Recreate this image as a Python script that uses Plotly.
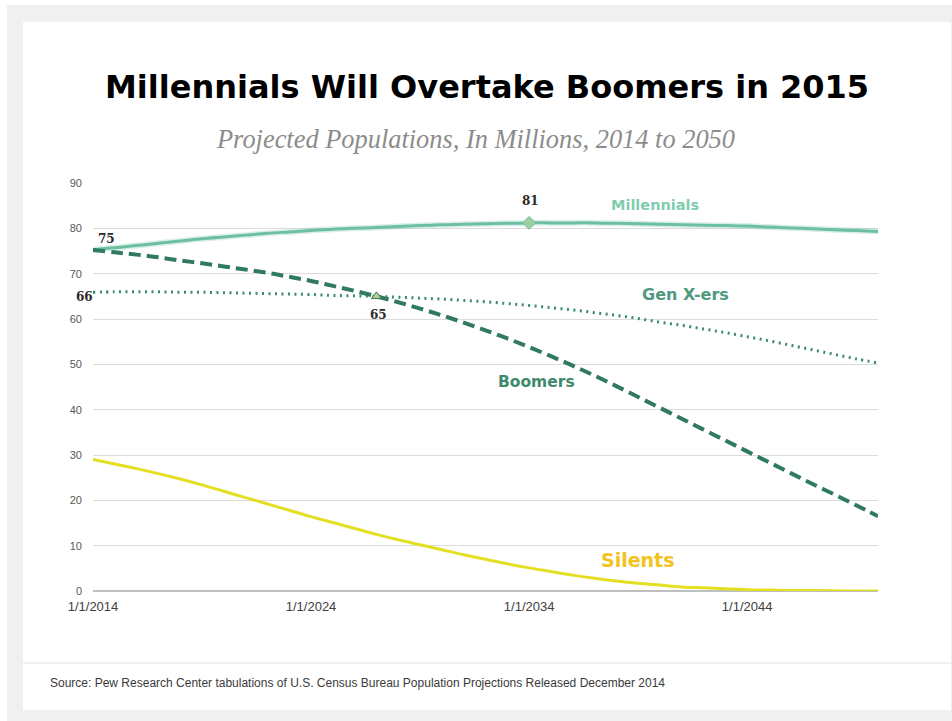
import plotly.graph_objects as go

# ---- data (millions of people, projected) ----
years = list(range(2014, 2051))

millennials = [75.3, 75.7, 76.2, 76.7, 77.2, 77.7, 78.1, 78.5, 78.9, 79.2,
               79.5, 79.8, 80.0, 80.2, 80.4, 80.6, 80.8, 80.9, 81.0, 81.1,
               81.2, 81.2, 81.2, 81.2, 81.1, 81.0, 80.9, 80.8, 80.7, 80.6,
               80.5, 80.3, 80.1, 79.9, 79.7, 79.5, 79.3]

gen_x = [65.9, 66.0, 66.0, 66.0, 65.9, 65.9, 65.8, 65.7, 65.6, 65.5,
         65.4, 65.2, 65.1, 65.0, 64.8, 64.6, 64.4, 64.1, 63.8, 63.4,
         63.0, 62.5, 62.0, 61.4, 60.8, 60.1, 59.3, 58.6, 57.8, 57.0,
         56.1, 55.2, 54.2, 53.2, 52.2, 51.2, 50.3]

boomers = [75.2, 74.7, 74.2, 73.6, 72.9, 72.3, 71.6, 70.9, 70.2, 69.3,
           68.4, 67.3, 66.2, 65.0, 63.7, 62.3, 60.8, 59.2, 57.5, 55.7,
           53.8, 51.8, 49.7, 47.5, 45.2, 42.8, 40.4, 38.0, 35.6, 33.2,
           30.8, 28.4, 26.0, 23.6, 21.3, 18.9, 16.5]

silents = [29.0, 28.0, 27.0, 25.9, 24.7, 23.4, 22.0, 20.6, 19.2, 17.8,
           16.4, 15.1, 13.8, 12.5, 11.3, 10.2, 9.1, 8.0, 7.0, 6.0,
           5.1, 4.3, 3.5, 2.8, 2.2, 1.7, 1.3, 0.9, 0.7, 0.5,
           0.3, 0.2, 0.1, 0.1, 0.05, 0.0, 0.0]

tick_years = [2014, 2024, 2034, 2044]
tick_labels = ["1/1/2014", "1/1/2024", "1/1/2034", "1/1/2044"]

peak_year = 2034          # Millennials peak
cross_year = 2027         # Gen X passes Boomers

dates = [f"{y}-01-01" for y in years]


def val(series, yr):
    return series[years.index(yr)]


# ---- canvas geometry (pixels) ----
W, H = 952, 721
PL, PR, PT, PB = 93, 878, 183, 591   # plot area edges


def px(x):
    return (x - PL) / (PR - PL)


def py(y):
    return (PB - y) / (PB - PT)


MILL_C = "#6dbfa3"
BOOM_C = "#2f7a60"
GENX_C = "#3b8a6d"
SIL_C = "#e4df22"

fig = go.Figure()

# soft halo under the Millennials line
fig.add_trace(go.Scatter(x=dates, y=millennials, mode="lines",
                         line=dict(color="rgba(109,191,163,0.25)", width=6, shape="spline"),
                         hoverinfo="skip", showlegend=False, cliponaxis=False))
fig.add_trace(go.Scatter(x=dates, y=millennials, mode="lines", name="Millennials",
                         line=dict(color=MILL_C, width=3, shape="spline"),
                         showlegend=False, cliponaxis=False))
fig.add_trace(go.Scatter(x=dates, y=gen_x, mode="lines", name="Gen X-ers",
                         line=dict(color=GENX_C, width=3, dash="2px,4.5px", shape="spline"),
                         showlegend=False, cliponaxis=False))
fig.add_trace(go.Scatter(x=dates, y=boomers, mode="lines", name="Boomers",
                         line=dict(color=BOOM_C, width=4, dash="12px,6px", shape="spline"),
                         showlegend=False, cliponaxis=False))
fig.add_trace(go.Scatter(x=dates, y=silents, mode="lines", name="Silents",
                         line=dict(color=SIL_C, width=3, shape="spline"),
                         showlegend=False, cliponaxis=False))

# markers on the highlighted points
fig.add_trace(go.Scatter(x=[f"{peak_year}-01-01"], y=[val(millennials, peak_year)],
                         mode="markers", showlegend=False, cliponaxis=False,
                         marker=dict(symbol="diamond", size=10, color="#9fcf9f",
                                     line=dict(color=MILL_C, width=1))))
fig.add_trace(go.Scatter(x=[f"{cross_year}-01-01"], y=[val(boomers, cross_year)],
                         mode="markers", showlegend=False, cliponaxis=False,
                         marker=dict(symbol="triangle-up", size=9, color="#b9c98a",
                                     line=dict(color=BOOM_C, width=1))))

annotations = []

# title and subtitle
annotations.append(dict(text="<b>Millennials Will Overtake Boomers in 2015</b>",
                        x=px(487), y=py(87), xref="paper", yref="paper",
                        xanchor="center", yanchor="middle", showarrow=False,
                        font=dict(family="DejaVu Sans", size=32, color="#000000")))
annotations.append(dict(text="<i>Projected Populations, In Millions, 2014 to 2050</i>",
                        x=px(475), y=py(139), xref="paper", yref="paper",
                        xanchor="center", yanchor="middle", showarrow=False,
                        font=dict(family="Liberation Serif", size=26.4, color="#8c8c8c")))

# series labels
series_labels = [
    ("Millennials", 655, 205, "#7fcdb0", 14.5),
    ("Gen X-ers", 685, 294, "#4f9a7e", 16),
    ("Boomers", 536, 382, "#3f8a6d", 15.5),
    ("Silents", 638, 560, "#f4c21c", 19),
]
for txt, x, y, c, s in series_labels:
    annotations.append(dict(text=f"<b>{txt}</b>", x=px(x), y=py(y),
                            xref="paper", yref="paper", xanchor="center",
                            yanchor="middle", showarrow=False,
                            font=dict(family="DejaVu Sans", size=s, color=c)))

# value labels
value_font = dict(family="DejaVu Serif", size=12, color="#2b2b2b")
value_labels = [
    (round(millennials[0]), 106, 239),
    (round(gen_x[0]), 84, 297),
    (round(val(boomers, cross_year)), 378, 315),
    (round(val(millennials, peak_year)), 530, 201),
]
for v, x, y in value_labels:
    annotations.append(dict(text=f"<b>{v}</b>", x=px(x), y=py(y),
                            xref="paper", yref="paper", xanchor="center",
                            yanchor="middle", showarrow=False, font=value_font))

# source note
annotations.append(dict(
    text="Source: Pew Research Center tabulations of U.S. Census Bureau Population Projections Released December 2014",
    x=px(48), y=py(683), xref="paper", yref="paper", xanchor="left", yanchor="middle",
    showarrow=False, font=dict(family="Liberation Sans Narrow, Liberation Sans", size=12,
                               color="#3a3a3a")))

shapes = [
    # grey frame and white card
    dict(type="rect", xref="paper", yref="paper", layer="below",
         x0=px(7), x1=px(W + 5), y0=py(H + 5), y1=py(5),
         fillcolor="#f0f0f0", line=dict(width=0)),
    dict(type="rect", xref="paper", yref="paper", layer="below",
         x0=px(23), x1=px(951), y0=py(710), y1=py(22),
         fillcolor="#ffffff", line=dict(width=0)),
    # divider above the source note
    dict(type="line", xref="paper", yref="paper", layer="below",
         x0=px(23), x1=px(951), y0=py(663), y1=py(663),
         line=dict(color="#f0f0f0", width=2)),
]

fig.update_layout(
    width=W, height=H,
    margin=dict(l=PL, r=W - PR, t=PT, b=H - PB, pad=0),
    paper_bgcolor="#ffffff", plot_bgcolor="rgba(0,0,0,0)",
    showlegend=False, hovermode=False,
    annotations=annotations, shapes=shapes,
    xaxis=dict(type="date", range=["2014-01-01", "2050-01-01"],
               tickvals=[f"{y}-01-01" for y in tick_years], ticktext=tick_labels,
               showgrid=False, zeroline=False, showline=False, ticks="",
               tickfont=dict(family="Liberation Sans Narrow, Liberation Sans", size=13, color="#404040"),
               ticklabelstandoff=6, fixedrange=True),
    yaxis=dict(range=[0, 90], dtick=10, tick0=0, showgrid=True,
               gridcolor="#dcdcdc", gridwidth=1, zeroline=True,
               zerolinecolor="#bfbfbf", zerolinewidth=1.5, showline=False,
               ticks="", tickfont=dict(family="Liberation Sans", size=11, color="#595959"),
               ticklabelstandoff=10, fixedrange=True),
)

fig.write_html("out.html", config={"displayModeBar": False})
